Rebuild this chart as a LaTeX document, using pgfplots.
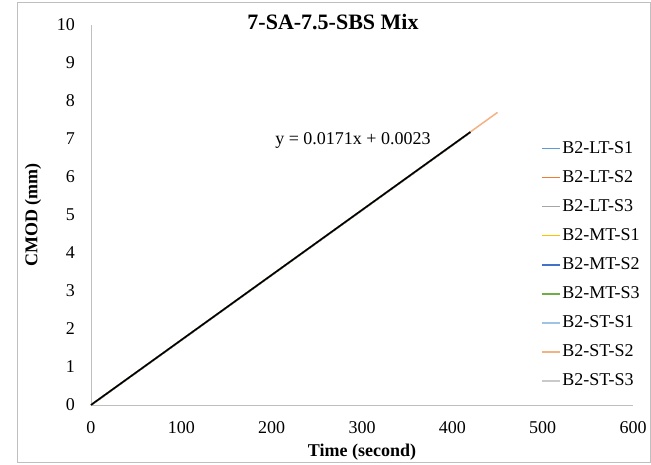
\documentclass[border=0pt]{standalone}
\usepackage{pgfplots}
\pgfplotsset{compat=1.18}
\usepackage{fontspec}
\setmainfont{Liberation Serif}

\definecolor{cA}{HTML}{5B9BD5}
\definecolor{cB}{HTML}{ED7D31}
\definecolor{cC}{HTML}{A5A5A5}
\definecolor{cD}{HTML}{FFC000}
\definecolor{cE}{HTML}{4472C4}
\definecolor{cF}{HTML}{70AD47}
\definecolor{cG}{HTML}{9DC3E6}
\definecolor{cH}{HTML}{F4B183}
\definecolor{cI}{HTML}{C9C9C9}
\definecolor{axgray}{HTML}{BFBFBF}

\begin{document}
\begin{tikzpicture}[font=\fontsize{18bp}{21bp}\selectfont]
\begin{axis}[
  scale only axis,
  width=542bp, height=380bp,
  xmin=0, xmax=600, ymin=0, ymax=10,
  xtick={0,100,...,600}, ytick={0,1,...,10},
  axis lines*=left,
  axis line style={axgray, line width=0.75bp},
  major tick length=0pt,
  tick style={draw=none},
  /pgf/number format/assume math mode=true,
  xticklabel style={anchor=center, yshift=-23bp},
  yticklabel style={anchor=east, inner sep=0pt, xshift=-16bp},
  xlabel={\textbf{Time (second)}},
  ylabel={\textbf{CMOD (mm)}},
  xlabel style={at={(rel axis cs:0.5,-0.1237)}, anchor=center},
  ylabel style={at={(rel axis cs:-0.107,0.5)}, anchor=center},
  title={\fontsize{22bp}{25bp}\selectfont\textbf{7-SA-7.5-SBS Mix}},
  title style={at={(rel axis cs:0.4465,1)}, anchor=center, yshift=-3bp},
  clip=false,
  legend style={at={(rel axis cs:0.830,0.697)}, anchor=north west, draw=none, fill=none,
    row sep=12.6bp, font=\fontsize{18bp}{21bp}\selectfont, inner sep=0pt,
    nodes={inner sep=1.5bp}},
  legend cell align=left,
  legend image code/.code={\draw[#1, line width=1.8bp] (0bp,0bp) -- (18bp,0bp);},
  every axis plot/.append style={line width=1.5bp},
]
\addplot[cA] coordinates {(0,0) (420,7.18)};
\addlegendentry{B2-LT-S1}
\addplot[cB] coordinates {(0,0) (420,7.18)};
\addlegendentry{B2-LT-S2}
\addplot[cC] coordinates {(0,0) (420,7.18)};
\addlegendentry{B2-LT-S3}
\addplot[cD] coordinates {(0,0) (420,7.18)};
\addlegendentry{B2-MT-S1}
\addplot[cE] coordinates {(0,0) (420,7.18)};
\addlegendentry{B2-MT-S2}
\addplot[cF] coordinates {(0,0) (420,7.18)};
\addlegendentry{B2-MT-S3}
\addplot[cG] coordinates {(0,0) (420,7.18)};
\addlegendentry{B2-ST-S1}
\addplot[cH] coordinates {(0,0) (225,3.85) (450,7.70)};
\addlegendentry{B2-ST-S2}
\addplot[cI] coordinates {(0,0) (420,7.18)};
\addlegendentry{B2-ST-S3}
\addplot[black, line width=1.6bp, forget plot] coordinates {(0,0.0023) (420,7.1843)};
\node at (axis cs:290,6.97) {y = 0.0171x + 0.0023};
\draw[axgray, line width=0.75bp] (rel axis cs:-0.1365,-0.150) rectangle (rel axis cs:1.0314,1.0605);
\path (rel axis cs:-0.1679,-0.1553) (rel axis cs:1.0332,1.0658);
\end{axis}
\end{tikzpicture}
\end{document}
